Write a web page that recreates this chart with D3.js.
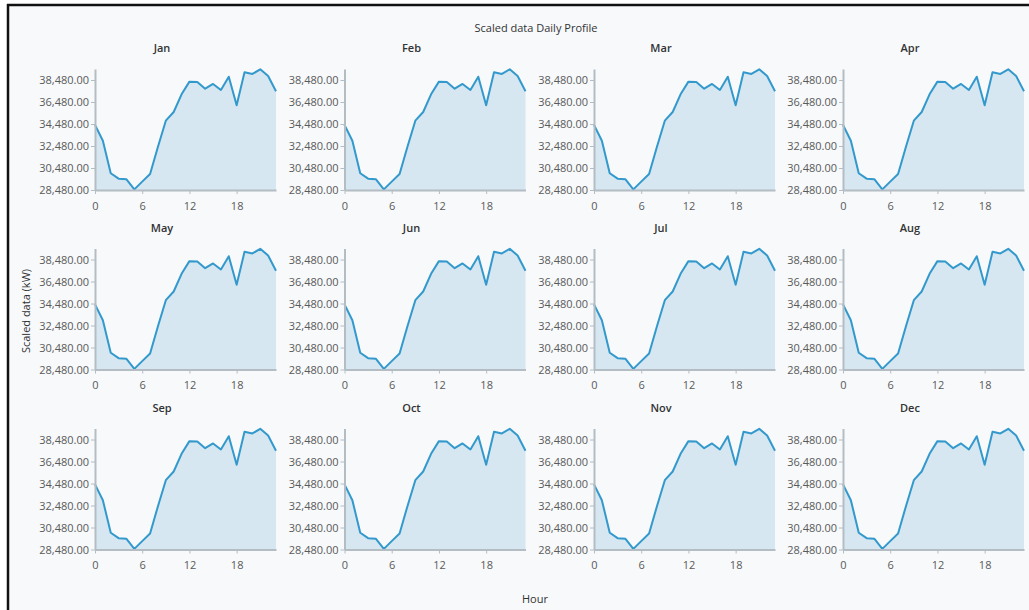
<!DOCTYPE html>
<html lang="en">
<head>
    <meta charset="utf-8">
    <title>Scaled data Daily Profile</title>
    <script src="https://d3js.org/d3.v7.min.js"></script>
    <style>
        body { margin: 0; background: #ffffff; }
        svg { display: block; }
        .tick text { font-family: "Open Sans", "Noto Sans", sans-serif; }
    </style>
</head>
<body>
<svg width="1029" height="610"></svg>
<script>
    // chart data
    const months = ["Jan", "Feb", "Mar", "Apr", "May", "Jun", "Jul", "Aug", "Sep", "Oct", "Nov", "Dec"];
    const hours = d3.range(0, 24);
    // same daily profile is shown for every month
    const scaledKW = [34400, 32960, 30000, 29510, 29450, 28540, 29240, 29935,
        32420, 34780, 35570, 37180, 38330, 38300, 37690, 38120,
        37570, 38780, 36180, 39180, 39030, 39450, 38840, 37450];
    const yTicks = [28480, 30480, 32480, 34480, 36480, 38480];
    const xTicks = [0, 6, 12, 18];

    const svg = d3.select("svg");

    // frame
    svg.append("rect").attr("x", 8).attr("y", 5).attr("width", 1021).attr("height", 605)
        .attr("fill", "#f7f9fb");
    svg.append("line").attr("x1", 7).attr("x2", 1029).attr("y1", 5).attr("y2", 5)
        .attr("stroke", "#111").attr("stroke-width", 2.5);
    svg.append("line").attr("x1", 8).attr("x2", 8).attr("y1", 4).attr("y2", 610)
        .attr("stroke", "#111").attr("stroke-width", 2.5);

    const colX = [95, 344.5, 594, 843];
    const rowBottom = [190, 369.5, 549.5];
    const plotW = 181, plotH = 121;

    const x = d3.scaleLinear().domain([0, 23]).range([0, plotW]);
    const y = d3.scaleLinear().domain([28480, 39480]).range([plotH, 0]);

    const area = d3.area()
        .x((d, i) => x(hours[i]))
        .y0(plotH)
        .y1(d => y(d));
    const line = d3.line()
        .x((d, i) => x(hours[i]))
        .y(d => y(d));

    months.forEach(function (m, k) {
        const g = svg.append("g")
            .attr("transform", "translate(" + colX[k % 4] + "," + (rowBottom[Math.floor(k / 4)] - plotH) + ")");

        g.append("path").datum(scaledKW)
            .attr("d", area)
            .attr("fill", "#d6e7f1");
        g.append("path").datum(scaledKW)
            .attr("d", line)
            .attr("fill", "none")
            .attr("stroke", "#3399cc")
            .attr("stroke-width", 2)
            .attr("stroke-linejoin", "round");

        const ya = g.append("g")
            .call(d3.axisLeft(y).tickValues(yTicks).tickFormat(d3.format(",.2f")).tickSize(4).tickSizeOuter(0));
        const xa = g.append("g")
            .attr("transform", "translate(0," + plotH + ")")
            .call(d3.axisBottom(x).tickValues(xTicks).tickSize(4).tickSizeOuter(0));
        [ya, xa].forEach(function (a) {
            a.select(".domain").attr("stroke", "#b4bcc4").attr("stroke-width", 2);
            a.selectAll(".tick line").attr("stroke", "#b4bcc4");
            a.selectAll(".tick text").attr("fill", "#5a5a5a").style("font-size", "11px");
        });
        ya.selectAll(".tick text").attr("x", -6);
        xa.selectAll(".tick text").attr("y", 12);

        g.append("text")
            .attr("x", 67)
            .attr("y", -17)
            .attr("text-anchor", "middle")
            .style("font-family", "Open Sans, sans-serif")
            .style("font-size", "11px")
            .style("font-weight", "600")
            .attr("fill", "#333")
            .text(m);
    });

    svg.append("text")
        .attr("x", 536).attr("y", 32)
        .attr("text-anchor", "middle")
        .style("font-family", "Open Sans, sans-serif")
        .style("font-size", "11px")
        .attr("fill", "#333")
        .text("Scaled data Daily Profile");

    svg.append("text")
        .attr("x", 535).attr("y", 603)
        .attr("text-anchor", "middle")
        .style("font-family", "Open Sans, sans-serif")
        .style("font-size", "11px")
        .attr("fill", "#333")
        .text("Hour");

    svg.append("text")
        .attr("transform", "translate(30,311) rotate(-90)")
        .attr("text-anchor", "middle")
        .style("font-family", "Open Sans, sans-serif")
        .style("font-size", "11px")
        .attr("fill", "#333")
        .text("Scaled data (kW)");
</script>
</body>
</html>
